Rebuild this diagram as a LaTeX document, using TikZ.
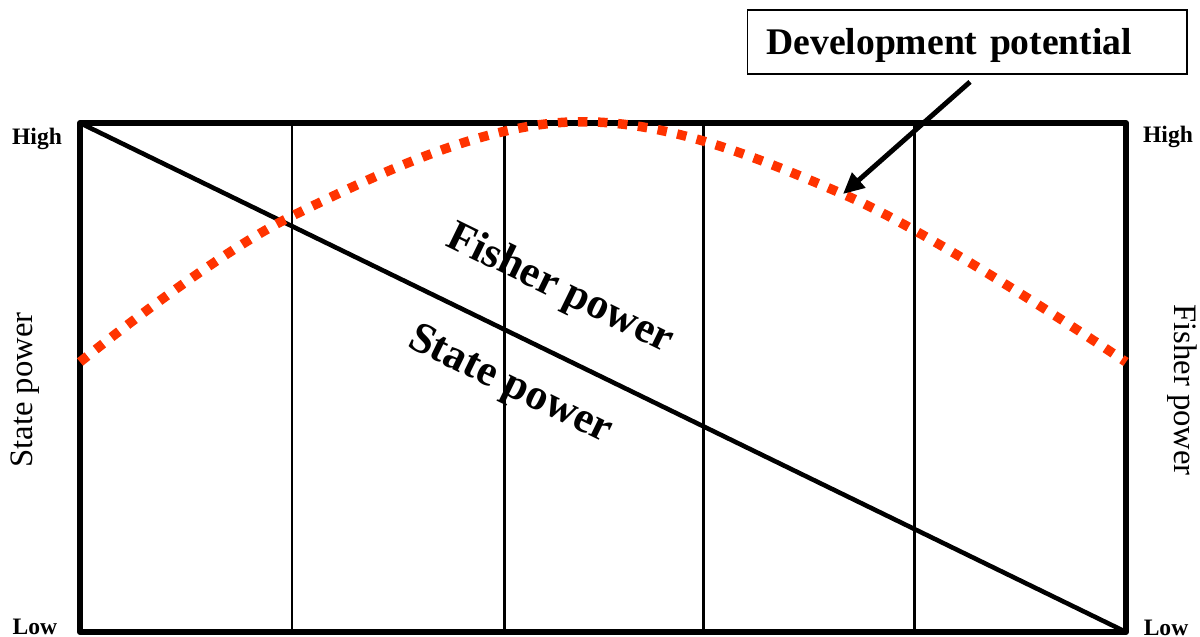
\documentclass[tikz,border=0pt]{standalone}
\usepackage{fontspec}
\setmainfont{Liberation Serif}
\usetikzlibrary{arrows.meta}
\definecolor{devred}{RGB}{255,51,0}
\tikzset{
	frame/.style={line width=1.7pt, line join=round},
	divider/.style={line width=0.85pt},
	powerline/.style={line width=1.3pt},
	devcurve/.style={devred, line width=2.7pt, dash pattern=on 2.7pt off 3pt},
	levellabel/.style={font=\fontsize{6.7}{8}\selectfont\bfseries, inner sep=0pt},
	axislabel/.style={font=\fontsize{9.3}{11}\selectfont, inner sep=0pt},
	slopelabel/.style={font=\fontsize{12.4}{14}\selectfont\bfseries, inner sep=0pt, rotate=-26}
}
\begin{document}
\begin{tikzpicture}[x=0.01cm, y=-0.01cm, >={Triangle[length=6pt,width=5.5pt]}]
			\useasboundingbox (0,0) rectangle (1200,636);
			
			\coordinate (tl) at (80,123);
			\coordinate (br) at (1126,632);
			
			% vertical dividers
			\foreach \xpos in {292, 504, 703, 914} {
				\draw[divider] (\xpos,123) -- (\xpos,632);
			}
			
			\draw[powerline] (tl) -- (br);
			\draw[frame] (tl) rectangle (br);
			
			\draw[devcurve] plot[smooth, tension=0.6] coordinates {(80,362) (292,216) (570,122) (845,195) (1126,362)};
			
			\node[slopelabel] (fisherpow) at (560,290) {Fisher power};
			\node[slopelabel] (statepow) at (510,386) {State power};
			
			\node[levellabel] (highL) at (37,139) {High};
			\node[levellabel] (lowL) at (35,627) {Low};
			\node[levellabel] (highR) at (1168,137) {High};
			\node[levellabel] (lowR) at (1166,628) {Low};
			
			\node[axislabel, rotate=90] (stateaxis) at (25,390) {State power};
			\node[axislabel, rotate=-90] (fisheraxis) at (1182,390) {Fisher power};
			
			\node[draw, line width=0.5pt, inner xsep=0.19cm, inner ysep=0pt,
				text width=4.01cm, align=left, minimum height=0.64cm,
				text height=0.69em, text depth=0pt,
				font=\fontsize{10.7}{13}\selectfont\bfseries] (devbox) at (967,42) {Development potential};
			\coordinate (tip) at (843,194);
			\draw[->, line width=1.4pt] ([yshift=-0.07cm, xshift=0.03cm]devbox.south) -- (tip);
	\end{tikzpicture}
\end{document}
